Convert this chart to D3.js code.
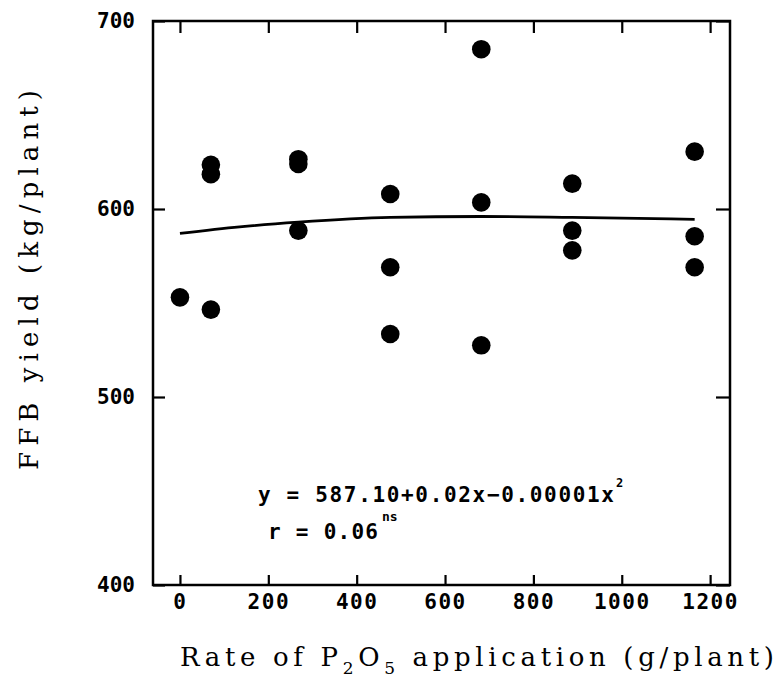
<!DOCTYPE html>
<html>
<head>
<meta charset="utf-8">
<script src="https://cdn.jsdelivr.net/npm/d3@7"></script>
<style>
  body { margin: 0; background: #fff; }
</style>
</head>
<body>
<div id="chart"></div>
<script>
// P2O5 rate (g/plant) and FFB yield (kg/plant) for each observation
const rateX = [0, 70, 70, 70, 268, 268, 268, 476, 476, 476, 682, 682, 682, 888, 888, 888, 1165, 1165, 1165];
const yieldY = [553, 623.5, 618.5, 546.5, 626.5, 624, 588.5, 608, 569, 533.5, 685, 603.5, 527.5, 613.5, 588.5, 578, 630.5, 585.5, 569];

// fitted curve
const fitX = [0, 135, 268, 476, 682, 888, 1165];
const fitY = [587, 590.5, 593, 595.5, 596, 595.5, 594.5];

const xTicks = [0, 200, 400, 600, 800, 1000, 1200];
const yTicks = [400, 500, 600, 700];

const width = 779, height = 691;
const mLeft = 153, mRight = 730, mTop = 21, mBottom = 585;

const svg = d3.select("#chart").append("svg")
    .attr("width", width)
    .attr("height", height);

const x = d3.scaleLinear().domain([-61, 1245]).range([mLeft, mRight]);
const y = d3.scaleLinear().domain([400, 700]).range([mBottom, mTop]);

// frame
svg.append("rect")
    .attr("x", mLeft).attr("y", mTop)
    .attr("width", mRight - mLeft).attr("height", mBottom - mTop)
    .attr("fill", "none")
    .attr("stroke", "#000")
    .attr("stroke-width", 2.5);

const tickFont = "'DejaVu Sans Mono', monospace";

// bottom axis, ticks pointing in
const gx = svg.append("g")
    .attr("transform", `translate(0,${mBottom})`)
    .call(d3.axisBottom(x).tickValues(xTicks).tickSize(-10).tickPadding(9).tickFormat(d3.format("d")));
gx.select(".domain").remove();
gx.selectAll("line").attr("stroke-width", 2.2);
gx.selectAll("text")
    .style("font-family", tickFont)
    .style("font-size", "21px")
    .style("font-weight", "bold")
    .style("letter-spacing", "1.5px")
    .attr("fill", "#000");

// top axis, no labels
const gt = svg.append("g")
    .attr("transform", `translate(0,${mTop})`)
    .call(d3.axisTop(x).tickValues(xTicks).tickSize(-12).tickFormat(""));
gt.select(".domain").remove();
gt.selectAll("line").attr("stroke-width", 2.2);

// left axis
const gy = svg.append("g")
    .attr("transform", `translate(${mLeft},0)`)
    .call(d3.axisLeft(y).tickValues(yTicks).tickSize(-12).tickPadding(18));
gy.select(".domain").remove();
gy.selectAll("line").attr("stroke-width", 2.2);
gy.selectAll("text")
    .style("font-family", tickFont)
    .style("font-size", "21px")
    .style("font-weight", "bold")
    .attr("fill", "#000");

// right axis, no labels
const gr = svg.append("g")
    .attr("transform", `translate(${mRight},0)`)
    .call(d3.axisRight(y).tickValues(yTicks).tickSize(-14).tickFormat(""));
gr.select(".domain").remove();
gr.selectAll("line").attr("stroke-width", 2.2);

// fitted curve
const line = d3.line()
    .x((d, i) => x(fitX[i]))
    .y(d => y(d))
    .curve(d3.curveMonotoneX);

svg.append("path")
    .datum(fitY)
    .attr("d", line)
    .attr("fill", "none")
    .attr("stroke", "#000")
    .attr("stroke-width", 2.8);

// points
svg.append("g")
    .selectAll("circle")
    .data(yieldY)
    .join("circle")
    .attr("cx", (d, i) => x(rateX[i]))
    .attr("cy", d => y(d))
    .attr("r", 9.3)
    .attr("fill", "#000");

// equation
const eqFont = "'DejaVu Sans Mono', monospace";
svg.append("text")
    .attr("x", 258).attr("y", 502)
    .style("font-family", eqFont)
    .style("font-size", "21px")
    .style("font-weight", "bold")
    .attr("textLength", 356)
    .attr("lengthAdjust", "spacing")
    .text("y = 587.10+0.02x\u22120.00001x");
svg.append("text")
    .attr("x", 616).attr("y", 487)
    .style("font-family", eqFont)
    .style("font-size", "12px")
    .style("font-weight", "bold")
    .text("2");

svg.append("text")
    .attr("x", 268).attr("y", 539)
    .style("font-family", eqFont)
    .style("font-size", "21px")
    .style("font-weight", "bold")
    .attr("textLength", 110)
    .attr("lengthAdjust", "spacing")
    .text("r = 0.06");
svg.append("text")
    .attr("x", 382).attr("y", 521)
    .style("font-family", eqFont)
    .style("font-size", "13px")
    .style("font-weight", "bold")
    .text("ns");

// axis titles
const titleFont = "'DejaVu Serif', serif";
const xt = svg.append("text")
    .attr("x", 180).attr("y", 666)
    .style("font-family", titleFont)
    .style("font-size", "26px")
    .attr("textLength", 594)
    .attr("lengthAdjust", "spacing");
xt.append("tspan").text("Rate of P");
xt.append("tspan").attr("dy", 8).style("font-size", "17px").text("2");
xt.append("tspan").attr("dy", -8).text("O");
xt.append("tspan").attr("dy", 8).style("font-size", "17px").text("5");
xt.append("tspan").attr("dy", -8).text(" application (g/plant)");

svg.append("text")
    .attr("transform", "translate(38,280) rotate(-90)")
    .attr("text-anchor", "middle")
    .style("font-family", titleFont)
    .style("font-size", "26px")
    .attr("textLength", 380)
    .attr("lengthAdjust", "spacing")
    .text("FFB yield (kg/plant)");
</script>
</body>
</html>
